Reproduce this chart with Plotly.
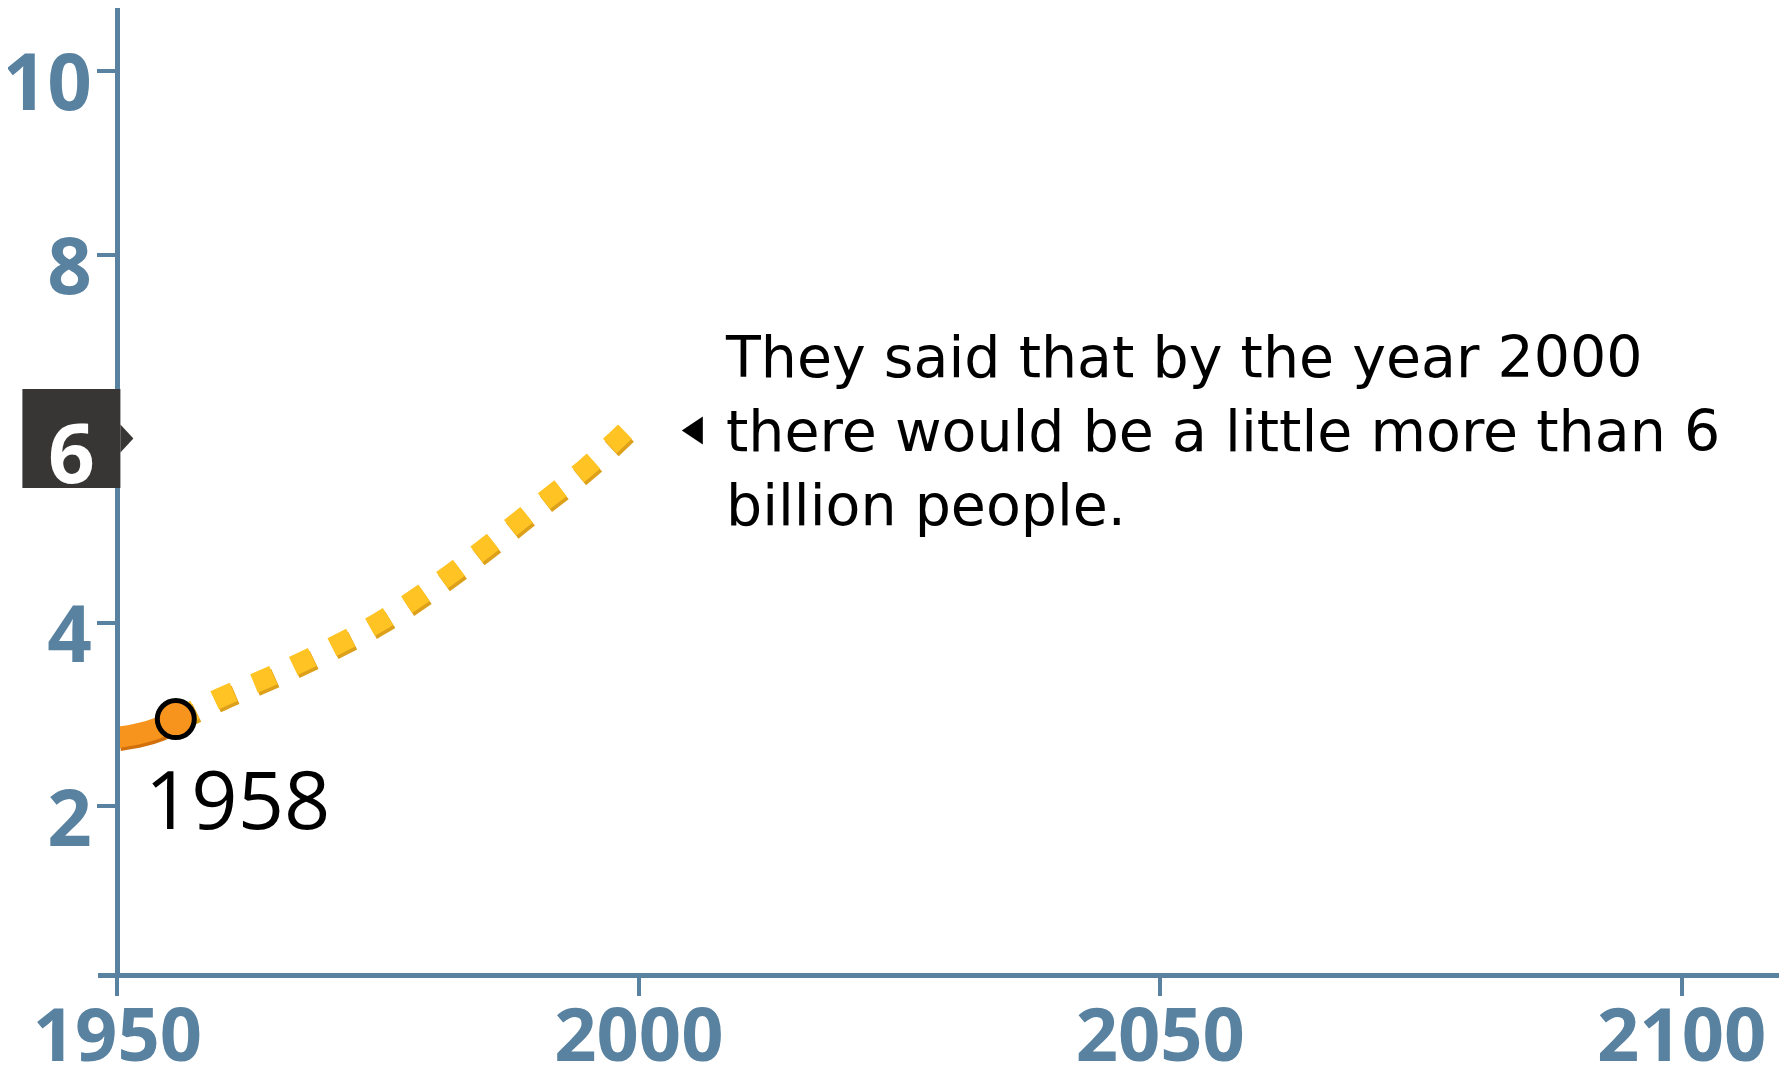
import plotly.graph_objects as go

# ---- data ----
history_years = [1950, 1952, 1954, 1955.6]
history_values = [2.75, 2.79, 2.86, 2.95]
projection_years = [1955.6, 1960, 1965, 1970, 1975, 1980, 1985, 1990, 1995, 2000]
projection_values = [2.95, 3.19, 3.43, 3.70, 4.00, 4.37, 4.79, 5.24, 5.69, 6.22]
marker_years = [1955.6]
marker_values = [2.95]
marker_label = "1958"
x_tickvals = [1950, 2000, 2050, 2100]
x_ticktext = ["1950", "2000", "2050", "2100"]
y_tickvals = [2, 4, 6, 8, 10]
y_ticktext = ["2", "4", "", "8", "10"]   # 6 is shown in the highlight box
highlight_value = 6
callout_text = ("They said that by the year 2000<br>"
                "there would be a little more than 6<br>"
                "billion people.")

# ---- layout geometry (page body has an 8px default margin) ----
W, H = 1779, 1060
ML, MR, MT, MB = 90, 0, 0, 95
PW, PH = W - ML - MR, H - MT - MB
x_range = [1948.14, 2110.1]
y_range = [0.19, 10.68]
px_x = PW / (x_range[1] - x_range[0])
px_y = PH / (y_range[1] - y_range[0])
shadow_dx, shadow_dy = 2, 3  # pixels right / down
x_range_sh = [x_range[0] - shadow_dx / px_x, x_range[1] - shadow_dx / px_x]
y_range_sh = [y_range[0] + shadow_dy / px_y, y_range[1] + shadow_dy / px_y]
y_axis_pos = (1950 - x_range[0]) / (x_range[1] - x_range[0])

AXIS = "#5882a0"
ORANGE = "#f7941e"
ORANGE_DARK = "#d2700c"
YELLOW = "#ffc423"
YELLOW_DARK = "#dca01a"
BOX = "#383634"
FONT = "Open Sans"
TEXT_FONT = "DejaVu Sans"
DASH = "21px,22px"

fig = go.Figure()

# shadows (base axes, shifted ranges)
fig.add_trace(go.Scatter(x=history_years, y=history_values, mode="lines",
                         line=dict(color=ORANGE_DARK, width=21, shape="spline"),
                         hoverinfo="skip", showlegend=False, xaxis="x", yaxis="y"))
fig.add_trace(go.Scatter(x=projection_years, y=projection_values, mode="lines",
                         line=dict(color=YELLOW_DARK, width=20, dash=DASH, shape="spline"),
                         hoverinfo="skip", showlegend=False, xaxis="x", yaxis="y"))
# main marks (visible axes)
fig.add_trace(go.Scatter(x=history_years, y=history_values, mode="lines",
                         line=dict(color=ORANGE, width=21, shape="spline"),
                         showlegend=False, xaxis="x2", yaxis="y2"))
fig.add_trace(go.Scatter(x=projection_years, y=projection_values, mode="lines",
                         line=dict(color=YELLOW, width=20, dash=DASH, shape="spline"),
                         showlegend=False, xaxis="x2", yaxis="y2"))
fig.add_trace(go.Scatter(x=marker_years, y=marker_values, mode="markers",
                         marker=dict(color=ORANGE, size=37, line=dict(color="black", width=5)),
                         showlegend=False, xaxis="x2", yaxis="y2"))

xtickfont = dict(family=FONT, size=74, color=AXIS, weight="bold")
ytickfont = dict(family=FONT, size=78, color=AXIS, weight="bold")

fig.update_layout(
    width=W, height=H,
    margin=dict(l=ML, r=MR, t=MT, b=MB, pad=0, autoexpand=False),
    paper_bgcolor="white", plot_bgcolor="white",
    showlegend=False,
    xaxis=dict(range=x_range_sh, visible=False, domain=[0, 1], automargin=False),
    yaxis=dict(range=y_range_sh, visible=False, domain=[0, 1], automargin=False),
    xaxis2=dict(range=x_range, overlaying="x", anchor="y2", side="bottom", automargin=False,
                showgrid=False, zeroline=False, showline=True, linecolor=AXIS, linewidth=5,
                ticks="outside", ticklen=18, tickwidth=4, tickcolor=AXIS,
                ticklabelstandoff=-24,
                tickvals=x_tickvals, ticktext=x_ticktext, tickfont=xtickfont),
    yaxis2=dict(range=y_range, overlaying="y", anchor="free", position=y_axis_pos,
                automargin=False,
                showgrid=False, zeroline=False, showline=True, linecolor=AXIS, linewidth=5,
                ticks="outside", ticklen=18, tickwidth=4, tickcolor=AXIS,
                ticklabelstandoff=-10, ticklabelshift=12,
                tickvals=y_tickvals, ticktext=y_ticktext, tickfont=ytickfont),
)

# highlighted "6" tick box
fig.add_shape(type="rect", xref="paper", yref="y2", xsizemode="pixel", ysizemode="pixel",
              xanchor=y_axis_pos, yanchor=highlight_value, x0=-95, x1=3, y0=-49.5, y1=49.5,
              fillcolor=BOX, line=dict(width=0), layer="above")
fig.add_shape(type="path", xref="paper", yref="y2", xsizemode="pixel", ysizemode="pixel",
              xanchor=y_axis_pos, yanchor=highlight_value,
              path="M 3 -14 L 16 0 L 3 14 Z", fillcolor=BOX, line=dict(width=0), layer="above")
fig.add_annotation(xref="x2", x=1950, xanchor="center", xshift=-46,
                   yref="y2", y=highlight_value, yanchor="middle", yshift=-12,
                   text=str(highlight_value), showarrow=False,
                   font=dict(family=FONT, size=82, color="white", weight="bold"))

# marker label
fig.add_annotation(xref="x2", yref="y2", x=marker_years[0], y=marker_values[0],
                   text=marker_label, showarrow=False, xanchor="left", yanchor="top",
                   xshift=-33, yshift=-21,
                   font=dict(family=FONT, size=81, color="black"))

# callout pointer and text
fig.add_shape(type="path", xref="x2", yref="y2", xsizemode="pixel", ysizemode="pixel",
              xanchor=projection_years[-1], yanchor=highlight_value,
              path="M 43 8 L 64 22 L 64 -6 Z", fillcolor="black", line=dict(width=0))
fig.add_annotation(xref="x2", yref="y2", x=projection_years[-1], y=highlight_value,
                   text=callout_text, showarrow=False, xanchor="left", yanchor="middle",
                   align="left", xshift=84, yshift=8,
                   font=dict(family=TEXT_FONT, size=57, color="black"))

fig.write_html("out.html")
